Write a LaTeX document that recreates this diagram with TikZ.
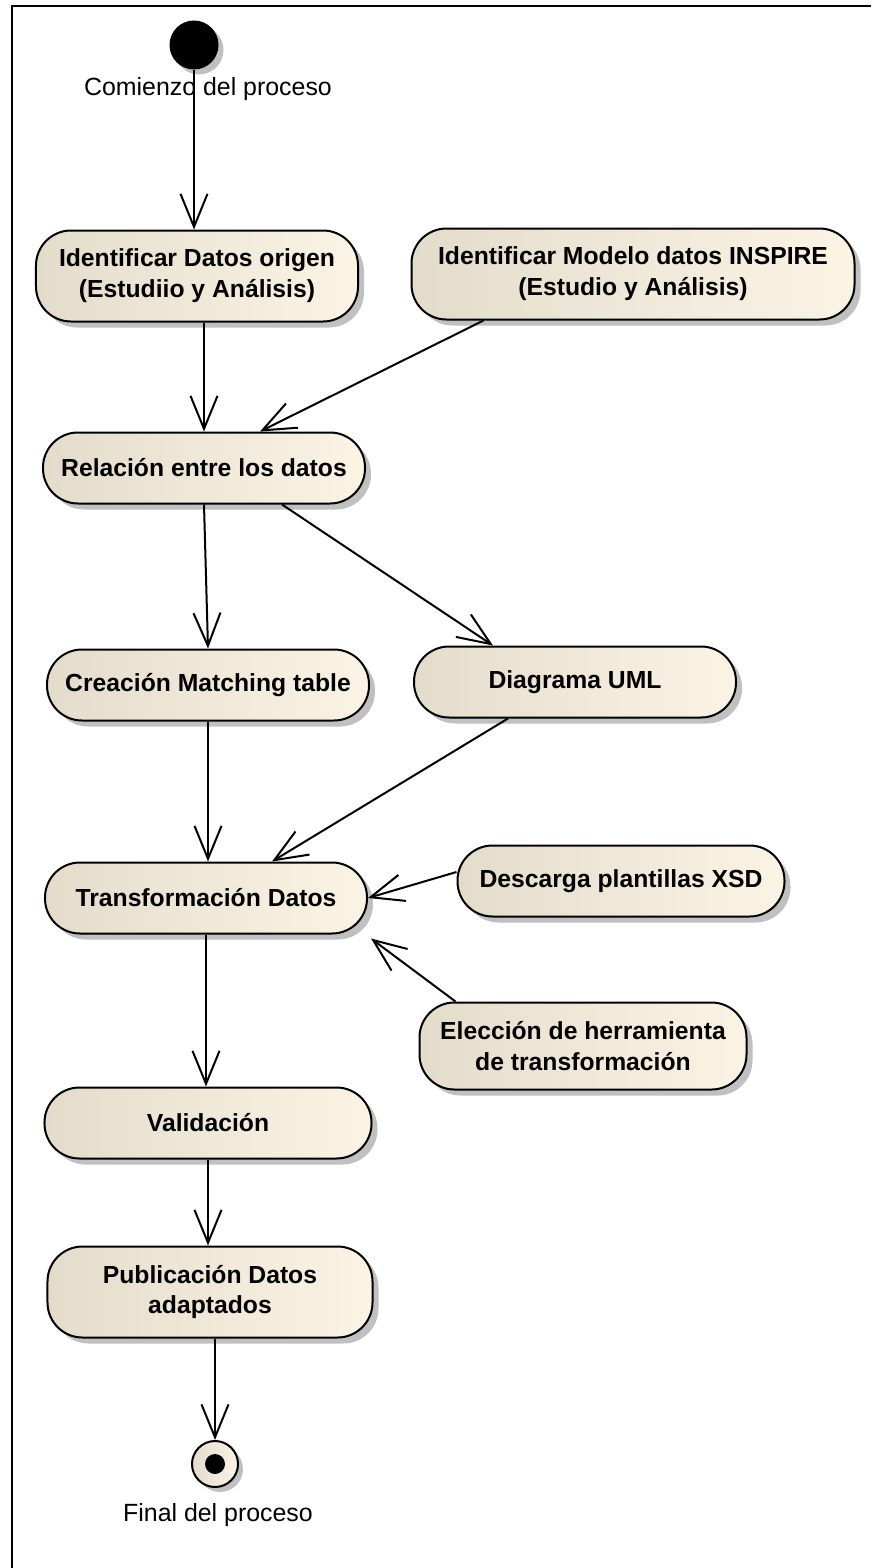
\documentclass[tikz,border=0pt]{standalone}
\usepackage{fontspec}
\setmainfont{Liberation Sans}
\usetikzlibrary{arrows.meta,shadows}
\definecolor{actleft}{RGB}{228,220,203}
\definecolor{actright}{RGB}{251,244,229}
\definecolor{shadowgray}{RGB}{192,192,192}

\begin{document}
\begin{tikzpicture}[x=1bp,y=-1bp,>={Straight Barb[length=33bp,width=27bp]},
    act/.style={rectangle,rounded corners=35bp,draw,line width=2bp,
      left color=actleft,right color=actright,
      drop shadow={shadow xshift=6bp,shadow yshift=-6bp,fill=shadowgray,opacity=1},
      inner sep=0pt,align=center,minimum width=322bp,minimum height=71bp,
      font=\fontsize{24.8}{31}\selectfont\bfseries},
    twol/.style={minimum height=91bp},
    startst/.style={circle,fill=black,inner sep=0pt,minimum size=49bp,
      drop shadow={shadow xshift=5bp,shadow yshift=-5bp,fill=shadowgray,opacity=1}},
    finst/.style={circle,draw,line width=2bp,left color=actleft,right color=actright,
      inner sep=0pt,minimum size=46bp,
      drop shadow={shadow xshift=5bp,shadow yshift=-5bp,fill=shadowgray,opacity=1}},
    lbl/.style={font=\fontsize{25}{30}\selectfont}]
  \useasboundingbox (0,0) rectangle (871,1568);
  \draw[line width=2.5bp] (12,1568) -- (12,6) -- (871,6);

  \node[startst] (start) at (194,45) {};
  \node[lbl] (lstart) at (208,89) {Comienzo del proceso};

  \node[act,twol] (ido) at (197,276) {Identificar Datos origen\\(Estudiio y Análisis)};
  \node[act,twol,minimum width=443bp] (imd) at (633,274) {Identificar Modelo datos INSPIRE\\(Estudio y Análisis)};
  \node[act] (rel) at (204,468) {Relación entre los datos};
  \node[act] (cmt) at (208,685) {Creación Matching table};
  \node[act] (uml) at (575,682) {Diagrama UML};
  \node[act] (tra) at (206,898) {Transformación Datos};
  \node[act,minimum width=327bp] (xsd) at (621,881) {Descarga plantillas XSD};
  \node[act,minimum width=327bp,minimum height=87bp] (ele) at (583,1046) {Elección de herramienta\\de transformación};
  \node[act,minimum width=327bp] (val) at (208,1123) {Validación};
  \node[act,twol,minimum width=325bp] (pub) at (210,1292) {Publicación Datos\\adaptados};

  \node[finst] (fin) at (215,1464) {};
  \fill (fin.center) circle (10bp);
  \node[lbl] (lfin) at (218,1515) {Final del proceso};

  \path[->,line width=2bp]
  (start) edge (start |- ido.north)
  (ido.south -| rel.north) edge (rel.north)
  ([xshift=73bp]imd.south west) edge ([xshift=218bp]rel.north west)

  (rel.south) edge (cmt.north)
  ([xshift=240bp]rel.south west) edge ([xshift=80bp]uml.north west)

  (cmt.south) edge (tra.north -| cmt.south)
  ([xshift=95bp]uml.south west) edge ([xshift=228bp]tra.north west)
  ([yshift=9bp]xsd.west) edge (tra.east)
  ([xshift=37bp]ele.north west) edge ([xshift=3bp,yshift=-4bp]tra.south east)

  (tra.south) edge (val.north -| tra.south)
  (val.south) edge (pub.north -| val.south)
  (fin.north |- pub.south) edge (fin.north)
  ;
\end{tikzpicture}
\end{document}
